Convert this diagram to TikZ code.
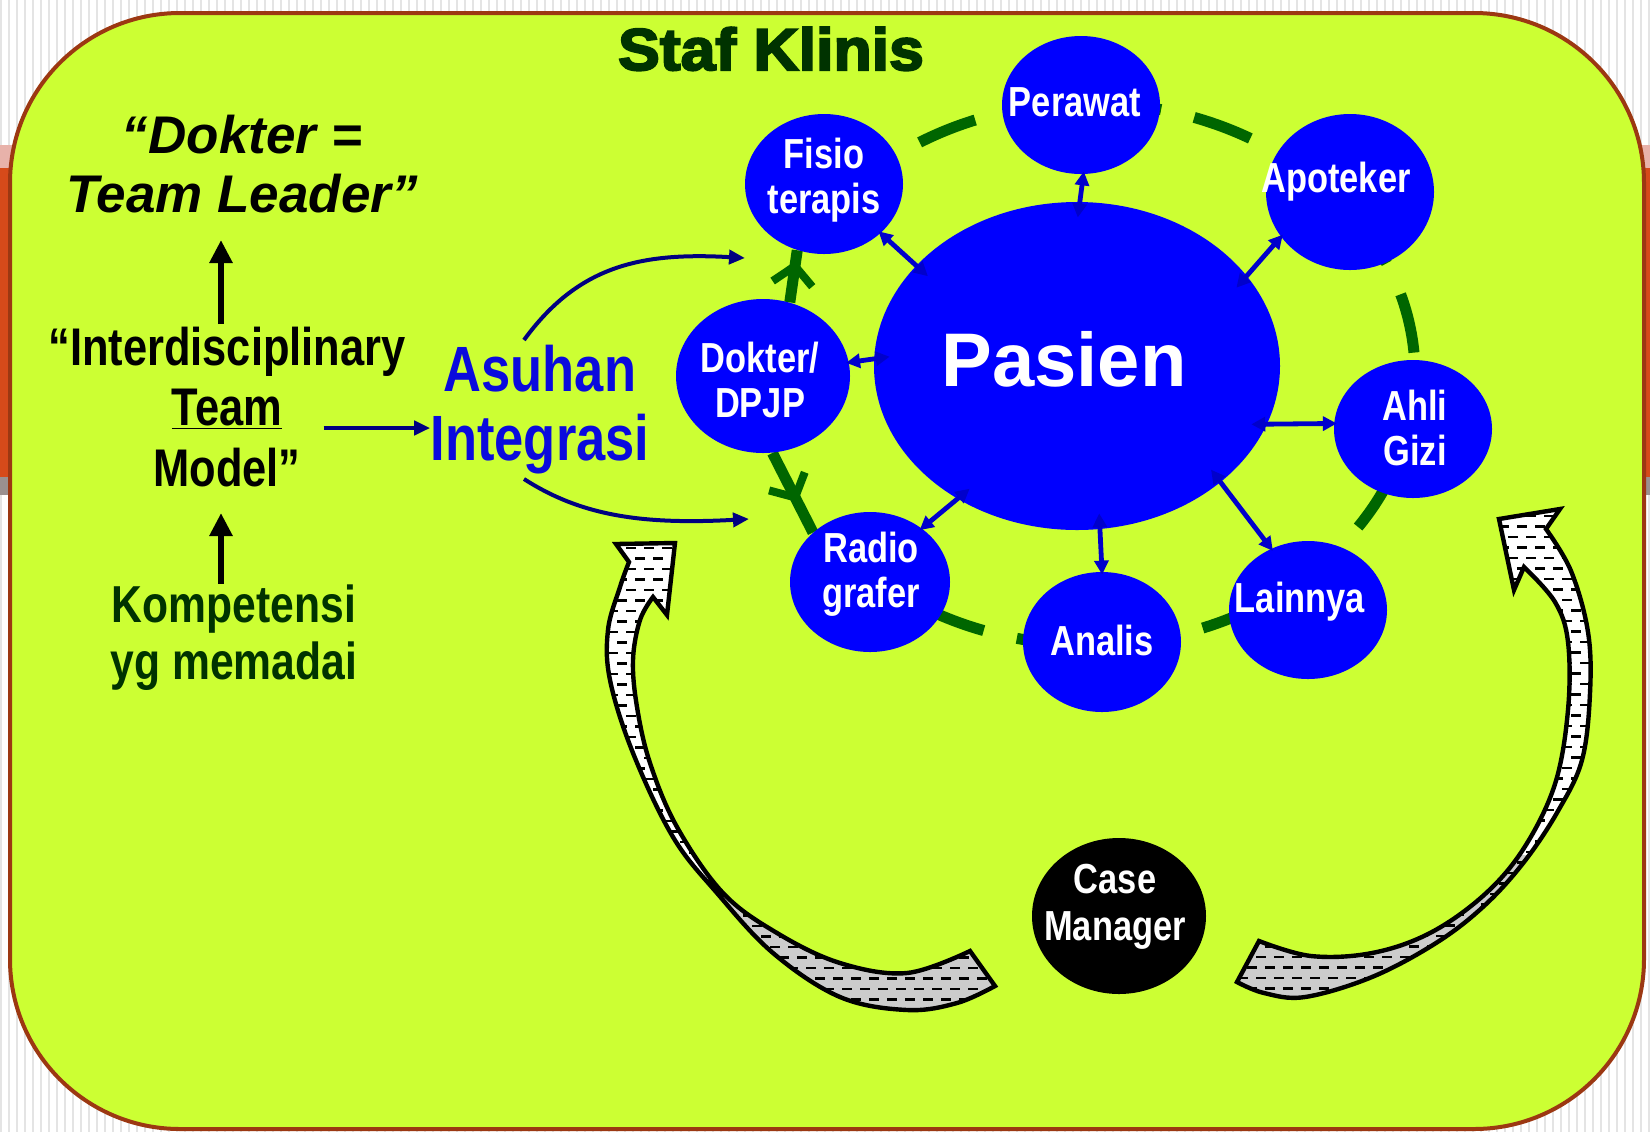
\documentclass[tikz,border=0pt]{standalone}
\usepackage{fontspec}
\setmainfont{Liberation Sans}
\newfontfamily\nfont[FakeStretch=0.82]{Liberation Sans}
\newfontfamily\kfont[FakeStretch=1.06, BoldFeatures={FakeBold=3.5}]{Liberation Sans}
\usetikzlibrary{arrows.meta,shapes.geometric,decorations.markings}
\definecolor{bglime}{HTML}{CCFF33}
\definecolor{framebrown}{HTML}{9C3812}
\definecolor{nodeblue}{HTML}{0000FF}
\definecolor{ringgreen}{HTML}{006600}
\definecolor{navyline}{HTML}{000080}
\definecolor{dblblue}{HTML}{0000CC}
\definecolor{darkgreen}{HTML}{003300}
\definecolor{asublue}{HTML}{0A0ADD}
\definecolor{bandpink}{HTML}{E8B2AA}
\definecolor{bandorange}{HTML}{D64A1A}
\definecolor{bandgray}{HTML}{9A9090}
\definecolor{stripegray}{HTML}{E4E4E4}
\definecolor{hatchgrey}{HTML}{CCCCCC}
\pgfdeclarelayer{back}
\pgfdeclarelayer{mid}
\pgfsetlayers{back,mid,main}
\begin{document}
\begin{tikzpicture}[x=0.5pt,y=-0.5pt,
  bubble/.style={ellipse, fill=nodeblue, draw=none, inner sep=0pt},
  btext/.style={text=white, font=\nfont\bfseries\fontsize{21}{22.5}\selectfont, align=center, inner sep=0pt},
  ring/.style={draw=ringgreen, line width=5.5pt, dash pattern=on 30pt off 17pt},
  ringarrow/.style={draw=ringgreen, line width=5.5pt},
  dbl/.style={draw=dblblue, line width=2.4pt, {Triangle[length=7pt,width=7pt]}-{Triangle[length=7pt,width=7pt]}, shorten <=-8pt, shorten >=-1.5pt},
  navyarr/.style={draw=navyline, line width=2pt, -{Triangle[length=8pt,width=7pt]}},
  barrow/.style={draw=black, line width=3pt, -{Triangle[length=11.5pt,width=11pt]}},
  hatch/.style={draw=black, line width=1.2pt, dash pattern=on 5pt off 4pt},
  blockline/.style={draw=black, line width=2.2pt, line join=miter}
]
\useasboundingbox (0,0) rectangle (1650,1132);
% ---------- background ----------
\begin{pgfonlayer}{back}
\fill[white] (0,0) rectangle (1650,1132);
\foreach \i in {0,...,206} \fill[stripegray] ({\i*8},0) rectangle ({\i*8+2},1132);
\fill[bandpink] (0,145) rectangle (14,168);
\fill[bandorange] (0,168) rectangle (14,477);
\fill[bandgray] (0,477) rectangle (14,495);
\fill[bandpink] (1636,145) rectangle (1650,168);
\fill[bandorange] (1636,168) rectangle (1650,477);
\fill[bandgray] (1636,477) rectangle (1650,495);
\draw[fill=bglime, draw=framebrown, line width=2pt, rounded corners=85pt] (10,13) rectangle (1644,1129);
\end{pgfonlayer}
% ---------- bubbles ----------
\node[bubble, minimum width=203pt, minimum height=164pt] (pasien) at (1077,366) {};
\node[bubble, minimum width=79pt, minimum height=69pt] (perawat) at (1081,105) {};
\node[bubble, minimum width=79pt, minimum height=70pt] (fisio) at (824,184) {};
\node[bubble, minimum width=84pt, minimum height=78pt] (apoteker) at (1350,192) {};
\node[bubble, minimum width=87pt, minimum height=77pt] (dokter) at (763,376) {};
\node[bubble, minimum width=79pt, minimum height=69pt] (gizi) at (1413,429) {};
\node[bubble, minimum width=80pt, minimum height=70pt] (radio) at (870,582) {};
\node[bubble, minimum width=79pt, minimum height=70pt] (analis) at (1102,642) {};
\node[bubble, minimum width=79pt, minimum height=69pt] (lainnya) at (1308,610) {};
\node[bubble, fill=black, minimum width=87pt, minimum height=78pt] (casem) at (1119,916) {};
% bubble texts
\node[btext] (perawat-t) at (1075,102) {Perawat};
\node[btext] (fisio-t) at (824,180) {Fisio\\terapis};
\node[btext] (apoteker-t) at (1336,182) {Apoteker};
\node[btext] (dokter-t) at (760,380) {Dokter/\\DPJP};
\node[btext] (gizi-t) at (1415,428) {Ahli\\Gizi};
\node[btext] (radio-t) at (871,574) {Radio\\grafer};
\node[btext] (analis-t) at (1102,640) {Analis};
\node[btext] (lainnya-t) at (1300,602) {Lainnya};
\node[btext, font=\nfont\bfseries\fontsize{21}{23.5}\selectfont] (casem-t) at (1115,907) {Case\\Manager};
\node[text=white, font=\bfseries\fontsize{38}{40}\selectfont, inner sep=0pt, anchor=base] (pasien-t) at (1064,386) {Pasien};
% ---------- ring ----------
\coordinate (rc) at (1089,374);
\begin{pgfonlayer}{mid}
\draw[ring] (rc) ++(221:326 and 271) arc[start angle=221, end angle=491, x radius=326, y radius=271];
\draw[ringarrow, postaction={decorate, decoration={markings, mark=at position 0.8 with {\arrow[ringgreen, line width=4pt]{Straight Barb[length=9pt,width=20pt]}}}}] (dokter.70) -- (fisio.248);
\draw[ringarrow, postaction={decorate, decoration={markings, mark=at position 0.62 with {\arrow[ringgreen, line width=4pt]{Straight Barb[length=9pt,width=20pt]}}}}] (dokter.277) -- (radio.139);
\end{pgfonlayer}
% ---------- double arrows ----------
\draw[dbl] (pasien.89) -- (perawat.272);
\draw[dbl] (pasien.148) -- (fisio.-41);
\draw[dbl] (pasien.28) -- (apoteker.213);
\draw[dbl] (pasien.178) -- (dokter.9);
\draw[dbl] (pasien.-17) -- (gizi.176);
\draw[dbl] (pasien.228) -- (radio.46);
\draw[dbl] (pasien.278) -- (analis.90);
\draw[dbl] (pasien.321) -- (lainnya.121);
% ---------- left texts ----------
\node[font=\kfont\bfseries\fontsize{29.5}{32}\selectfont, text=darkgreen, inner sep=0pt, anchor=base] (staf) at (771,70) {Staf Klinis};
\node[font=\bfseries\itshape\fontsize{26.5}{29}\selectfont, inner sep=0pt, anchor=base] (leader1) at (242,153) {“Dokter =};
\node[font=\bfseries\itshape\fontsize{26.5}{29}\selectfont, inner sep=0pt, anchor=base] (leader2) at (242,212) {Team Leader”};
\node[font=\nfont\bfseries\fontsize{26.5}{30}\selectfont, inner sep=0pt, anchor=base] (interd) at (227,365) {“Interdisciplinary};
\node[font=\nfont\bfseries\fontsize{26.5}{30}\selectfont, inner sep=0pt, anchor=base] (team) at (227,425) {\underline{Team}};
\node[font=\nfont\bfseries\fontsize{26.5}{30}\selectfont, inner sep=0pt, anchor=base] (model) at (227,486) {Model”};
\node[font=\nfont\bfseries\fontsize{26}{30}\selectfont, text=darkgreen, inner sep=0pt, anchor=base] (komp1) at (234,622) {Kompetensi};
\node[font=\nfont\bfseries\fontsize{26}{30}\selectfont, text=darkgreen, inner sep=0pt, anchor=base] (komp2) at (234,679) {yg memadai};
\node[font=\nfont\bfseries\fontsize{32}{33}\selectfont, text=asublue, inner sep=0pt, anchor=base] (asuhan) at (540,391) {Asuhan};
\node[font=\nfont\bfseries\fontsize{32}{33}\selectfont, text=asublue, inner sep=0pt, anchor=base] (integrasi) at (540,460) {Integrasi};
% ---------- left arrows ----------
\draw[barrow] (interd.north -| 221,0) ++(0,-2) coordinate (ia) (ia) -- (ia |- 240,240);
\draw[barrow] (komp1.north -| 221,0) coordinate (ka) -- (ka |- 513,513);
\draw[navyarr] (team.east |- 428,428) ++(41,0) coordinate (ta) (ta) -- (ta -| integrasi.west);
\coordinate (c1s) at (524,340);
\coordinate (c1e) at (745,258);
\coordinate (c2s) at (524,479);
\coordinate (c2e) at (749,519);
\draw[navyarr] (c1s) .. controls (578,266) and (640,252) .. (c1e);
\draw[navyarr] (c2s) .. controls (580,515) and (640,525) .. (c2e);
% ---------- block arrows ----------
\def\leftblock{(616,544) -- (675,543) -- (667,615) -- (653,597) -- plot[smooth, tension=0.6] coordinates {(653,597) (640,620) (633,660) (637,707) (650,763) (677,827) (723,893) (777,933) (840,963) (907,973) (970,951)} -- (995,986) -- plot[smooth, tension=0.6] coordinates {(995,986) (957,1003) (907,1010) (840,997) (773,953) (717,893) (673,837) (633,753) (610,680) (608,630) (620,587) (629,562)} -- cycle}
\def\rightblock{(1499,519) -- (1560,509) -- (1546,529) -- plot[smooth, tension=0.6] coordinates {(1546,529) (1571,571) (1588,632) (1590,693) (1582,760) (1558,811) (1524,862) (1484,906) (1436,943) (1372,977) (1305,997) (1264,993) (1237,982)} -- (1259,941) -- plot[smooth, tension=0.6] coordinates {(1259,941) (1311,956) (1372,953) (1430,933) (1484,895) (1524,848) (1555,784) (1568,710) (1568,642) (1555,602) (1524,567)} -- (1514,590) -- cycle}
\begin{scope}
\clip \leftblock;
\fill[white] (590,530) rectangle (1010,1020);
\fill[hatchgrey] (712,800) rectangle (1010,1020);
\foreach \k in {0,...,46} {
  \pgfmathsetmacro{\ph}{mod(\k,2)*4.5}
  \draw[hatch, dash phase=\ph pt] (590,{548+\k*10.5}) -- (1010,{548+\k*10.5});
}
\end{scope}
\draw[blockline] \leftblock;
\begin{scope}
\clip \rightblock;
\fill[white] (1220,500) rectangle (1600,1010);
\fill[hatchgrey] (1220,855) rectangle (1600,1010);
\foreach \k in {0,...,47} {
  \pgfmathsetmacro{\ph}{mod(\k,2)*4.5}
  \draw[hatch, dash phase=\ph pt] (1220,{516+\k*10.5}) -- (1600,{516+\k*10.5});
}
\end{scope}
\draw[blockline] \rightblock;
\end{tikzpicture}
\end{document}
